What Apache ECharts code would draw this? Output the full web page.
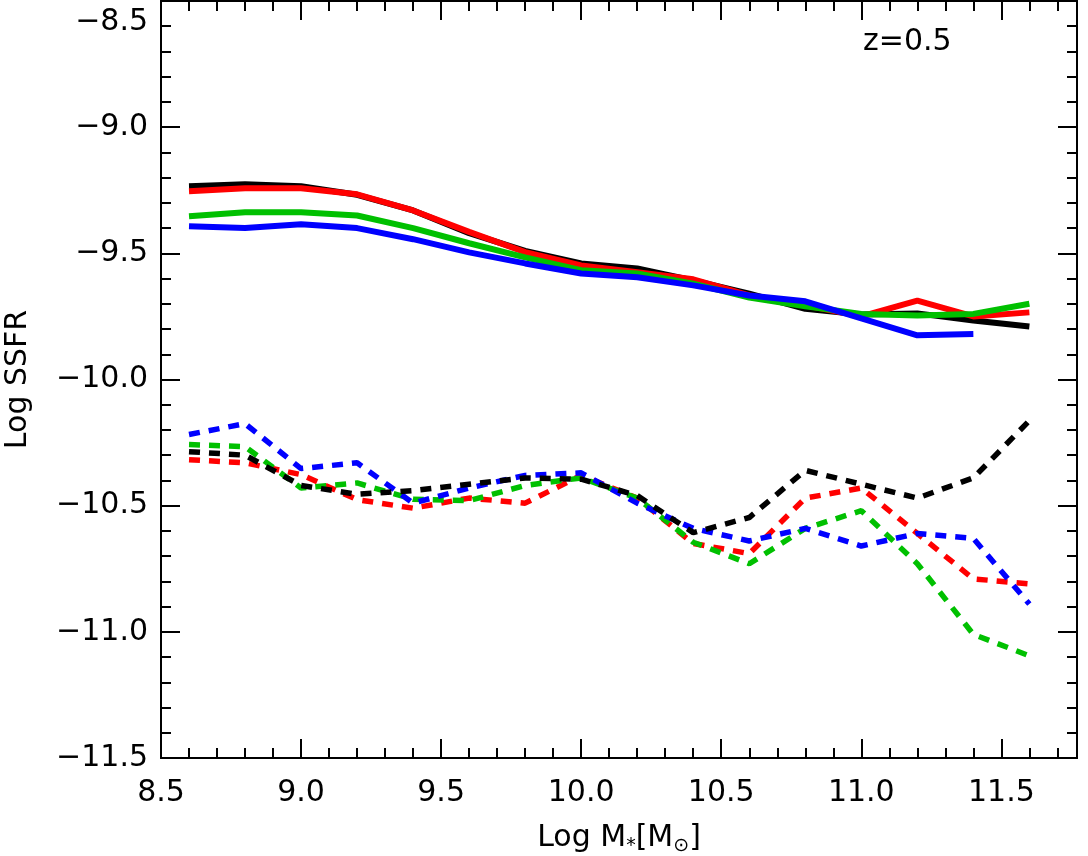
<!DOCTYPE html>
<html>
<head>
<meta charset="utf-8">
<script src="https://cdn.jsdelivr.net/npm/echarts@6/dist/echarts.min.js"></script>
<style>
  html, body { margin: 0; padding: 0; background: #fff; }
  #chart { width: 1088px; height: 856px; }
</style>
</head>
<body>
<div id="chart"></div>
<script>
// Log stellar mass bins (x)
const mass = [8.6, 8.8, 9.0, 9.2, 9.4, 9.6, 9.8, 10.0, 10.2, 10.4, 10.6, 10.8, 11.0, 11.2, 11.4, 11.6];

// solid curves (upper group)
const solidBlack = [-9.234, -9.226, -9.234, -9.268, -9.33, -9.42, -9.49, -9.54, -9.56, -9.607, -9.66, -9.72, -9.742, -9.738, -9.766, -9.79];
const solidRed = [-9.254, -9.242, -9.242, -9.266, -9.33, -9.415, -9.495, -9.548, -9.575, -9.603, -9.667, -9.706, -9.75, -9.687, -9.75, -9.734];
const solidGreen = [-9.353, -9.337, -9.337, -9.35, -9.40, -9.46, -9.516, -9.567, -9.58, -9.62, -9.675, -9.71, -9.74, -9.746, -9.74, -9.70];
const solidBlue = [-9.393, -9.40, -9.385, -9.40, -9.444, -9.496, -9.54, -9.58, -9.595, -9.627, -9.667, -9.69, -9.758, -9.825, -9.82, null];

// dashed curves (lower group)
const dashBlack = [-10.286, -10.30, -10.42, -10.455, -10.44, -10.415, -10.39, -10.395, -10.46, -10.607, -10.547, -10.36, -10.415, -10.47, -10.39, -10.163];
const dashRed = [-10.318, -10.33, -10.377, -10.476, -10.51, -10.47, -10.49, -10.38, -10.47, -10.65, -10.69, -10.47, -10.43, -10.61, -10.79, -10.81];
const dashGreen = [-10.258, -10.266, -10.43, -10.41, -10.475, -10.48, -10.42, -10.39, -10.47, -10.645, -10.73, -10.59, -10.52, -10.73, -11.01, -11.095];
const dashBlue = [-10.218, -10.175, -10.353, -10.33, -10.49, -10.43, -10.38, -10.37, -10.49, -10.59, -10.64, -10.59, -10.66, -10.61, -10.63, -10.89];

const FONT = "DejaVu Sans";
const INK = "#000";
const xMin = 8.5, xMax = 11.77;
const yMin = -11.5, yMax = -8.5;

const pairs = (ys) => mass.map((x, i) => [x, ys[i]]).filter((p) => p[1] != null);

// IDL-style boxed axes: ticks inside on all four sides
function xAxisDef(position, interval, tickLen, withLabels) {
  return {
    type: "value",
    position,
    min: xMin,
    max: xMax,
    interval,
    axisLine: { show: true, onZero: false, lineStyle: { color: INK, width: 2 } },
    axisTick: { show: true, inside: true, length: tickLen, lineStyle: { color: INK, width: 2 } },
    splitLine: { show: false },
    axisLabel: {
      show: withLabels,
      showMaxLabel: false,
      margin: 20,
      fontFamily: FONT,
      fontSize: 30,
      color: INK,
      formatter: (v) => v.toFixed(1),
    },
  };
}

function yAxisDef(position, withLabels) {
  return {
    type: "value",
    position,
    min: yMin,
    max: yMax,
    interval: 0.5,
    axisLine: { show: true, onZero: false, lineStyle: { color: INK, width: 2 } },
    axisTick: { show: true, inside: true, length: 19, lineStyle: { color: INK, width: 2 } },
    minorTick: { show: true, splitNumber: 5, length: 10, lineStyle: { color: INK, width: 2 } },
    splitLine: { show: false },
    axisLabel: {
      show: withLabels,
      margin: 13,
      padding: [6, 0, 0, 0],
      verticalAlignMaxLabel: "top",
      fontFamily: FONT,
      fontSize: 30,
      color: INK,
      formatter: (v) => v.toFixed(1).replace("-", "\u2212"),
    },
  };
}

function line(ys, color, dashed) {
  return {
    type: "line",
    xAxisIndex: 0,
    yAxisIndex: 0,
    data: pairs(ys),
    showSymbol: false,
    symbol: "none",
    smooth: false,
    silent: true,
    lineStyle: { color, width: dashed ? 5.5 : 6, type: dashed ? [11, 9] : "solid" },
  };
}

const chart = echarts.init(document.getElementById("chart"), null, { renderer: "canvas" });

const bottomX = xAxisDef("bottom", 0.5, 19, true);
bottomX.name = "{n|Log M}{s|*}{n|[M}{s|\u2299}{n|]}";
bottomX.nameLocation = "middle";
bottomX.nameGap = 62;
bottomX.nameTextStyle = {
  rich: {
    n: { fontFamily: FONT, fontSize: 30, color: INK, lineHeight: 36 },
    s: { fontFamily: FONT, fontSize: 19, color: INK, verticalAlign: "bottom", lineHeight: 19 },
  },
};

const leftY = yAxisDef("left", true);
leftY.name = "Log SSFR";
leftY.nameLocation = "middle";
leftY.nameRotate = 90;
leftY.nameGap = 128;
leftY.nameTextStyle = { fontFamily: FONT, fontSize: 30, color: INK };

chart.setOption({
  animation: false,
  backgroundColor: "#fff",
  grid: { left: 161, right: 11, top: 1, bottom: 98, containLabel: false, outerBoundsMode: "none" },
  xAxis: [
    bottomX,
    xAxisDef("bottom", 0.1, 10, false),
    xAxisDef("top", 0.5, 19, false),
    xAxisDef("top", 0.1, 10, false),
  ],
  yAxis: [leftY, yAxisDef("right", false)],
  graphic: [
    {
      type: "text",
      left: 863,
      top: 27,
      style: { text: "z=0.5", fontFamily: FONT, fontSize: 30, fill: INK },
    },
  ],
  series: [
    line(solidBlack, "#000000", false),
    line(solidRed, "#ff0000", false),
    line(solidGreen, "#00c000", false),
    line(solidBlue, "#0000ff", false),
    line(dashRed, "#ff0000", true),
    line(dashGreen, "#00c000", true),
    line(dashBlue, "#0000ff", true),
    line(dashBlack, "#000000", true),
  ],
});
</script>
</body>
</html>
